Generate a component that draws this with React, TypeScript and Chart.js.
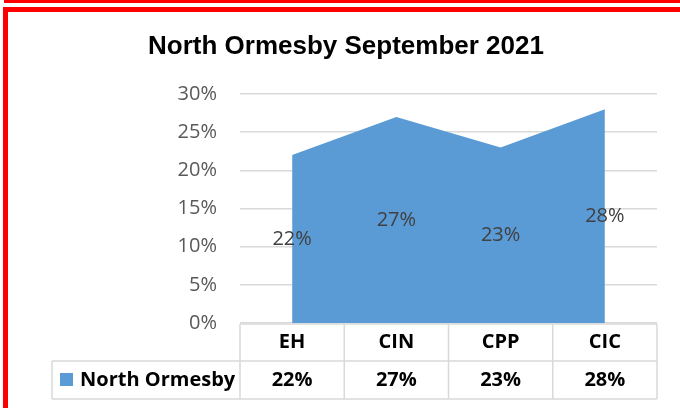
import React, { useEffect, useRef } from "react";
import { Chart, registerables } from "chart.js";
Chart.register(...registerables);

const title = "North Ormesby September 2021";
const categories = ["EH", "CIN", "CPP", "CIC"];
const seriesName = "North Ormesby";
const values = [22, 27, 23, 28];
const yTicks = [0, 5, 10, 15, 20, 25, 30];

const AREA = "#5b9bd5";
const GRID = "#d9d9d9";
const FONT = "'Open Sans', 'Noto Sans', sans-serif";

export default function App() {
  const ref = useRef<HTMLCanvasElement>(null);
  useEffect(() => {
    const canvas = ref.current!;
    const framePlugin = {
      id: "frame",
      beforeDraw(chart: any) {
        const ctx = chart.ctx;
        ctx.save();
        ctx.fillStyle = "#ffffff";
        ctx.fillRect(0, 0, chart.width, chart.height);
        ctx.fillStyle = "#ff0000";
        ctx.fillRect(4, 0, 676, 3);
        ctx.fillRect(3, 7, 677, 5);
        ctx.fillRect(3, 7, 5, 401);
        ctx.fillStyle = "#000000";
        ctx.font = "bold 26px 'Liberation Sans', Arial, sans-serif";
        ctx.textAlign = "center";
        ctx.textBaseline = "middle";
        ctx.fillText(title, 346, 47);
        ctx.restore();
      },
      afterDatasetsDraw(chart: any) {
        const ctx = chart.ctx;
        const xs = chart.scales.x;
        const ys = chart.scales.y;
        ctx.save();
        ctx.fillStyle = "#404040";
        ctx.font = `20px ${FONT}`;
        ctx.textAlign = "center";
        ctx.textBaseline = "middle";
        values.forEach((v, i) => {
          ctx.fillText(`${v}%`, xs.getPixelForTick(i), ys.getPixelForValue(v / 2));
        });
        ctx.restore();
      },
      afterDraw(chart: any) {
        const ctx = chart.ctx;
        const xs = chart.scales.x;
        const area = chart.chartArea;
        const top = area.bottom + 1;
        const mid = top + 37;
        const bot = top + 75;
        const legendLeft = 52;
        const bounds = [area.left];
        for (let i = 0; i < categories.length - 1; i++) {
          bounds.push((xs.getPixelForTick(i) + xs.getPixelForTick(i + 1)) / 2);
        }
        bounds.push(area.right);
        ctx.save();
        ctx.strokeStyle = GRID;
        ctx.lineWidth = 1.5;
        ctx.beginPath();
        ctx.moveTo(area.left, top);
        ctx.lineTo(area.right, top);
        ctx.moveTo(legendLeft, mid);
        ctx.lineTo(area.right, mid);
        ctx.moveTo(legendLeft, bot);
        ctx.lineTo(area.right, bot);
        bounds.forEach((b) => {
          ctx.moveTo(b, top);
          ctx.lineTo(b, bot);
        });
        ctx.moveTo(legendLeft, mid);
        ctx.lineTo(legendLeft, bot);
        ctx.stroke();

        ctx.fillStyle = "#000000";
        ctx.font = `bold 20px ${FONT}`;
        ctx.textAlign = "center";
        ctx.textBaseline = "middle";
        categories.forEach((c, i) => {
          ctx.fillText(c, xs.getPixelForTick(i), (top + mid) / 2);
          ctx.fillText(`${values[i]}%`, xs.getPixelForTick(i), (mid + bot) / 2);
        });
        ctx.fillStyle = AREA;
        ctx.fillRect(60, 373, 13, 13);
        ctx.fillStyle = "#000000";
        ctx.textAlign = "left";
        ctx.fillText(seriesName, 80, (mid + bot) / 2);
        ctx.restore();
      },
    };

    const chart = new Chart(canvas, {
      type: "line",
      data: {
        labels: categories,
        datasets: [
          {
            label: seriesName,
            data: values,
            fill: "origin",
            backgroundColor: AREA,
            borderWidth: 0,
            borderColor: AREA,
            pointRadius: 0,
            tension: 0,
          },
        ],
      },
      options: {
        responsive: false,
        animation: false,
        devicePixelRatio: 1,
        layout: { padding: { top: 94, left: 0, right: 23, bottom: 85 } },
        plugins: {
          legend: { display: false },
          title: { display: false },
          tooltip: { enabled: false },
        },
        scales: {
          x: {
            display: false,
            offset: true,
          },
          y: {
            min: 0,
            max: 30,
            afterBuildTicks: (scale: any) => {
              scale.ticks = yTicks.map((v) => ({ value: v }));
            },
            afterFit: (scale: any) => {
              scale.width = 240;
            },
            border: { display: false },
            grid: { color: GRID, lineWidth: 1.5, drawTicks: false },
            ticks: {
              padding: 23,
              color: "#595959",
              font: { family: FONT, size: 20 },
              callback: (v: any) => `${v}%`,
            },
          },
        },
      },
      plugins: [framePlugin],
    });
    return () => chart.destroy();
  }, []);

  return (
    <div style={{ position: "fixed", left: 0, top: 0, width: 680, height: 408 }}>
      <canvas ref={ref} width={680} height={408} style={{ display: "block" }} />
    </div>
  );
}
